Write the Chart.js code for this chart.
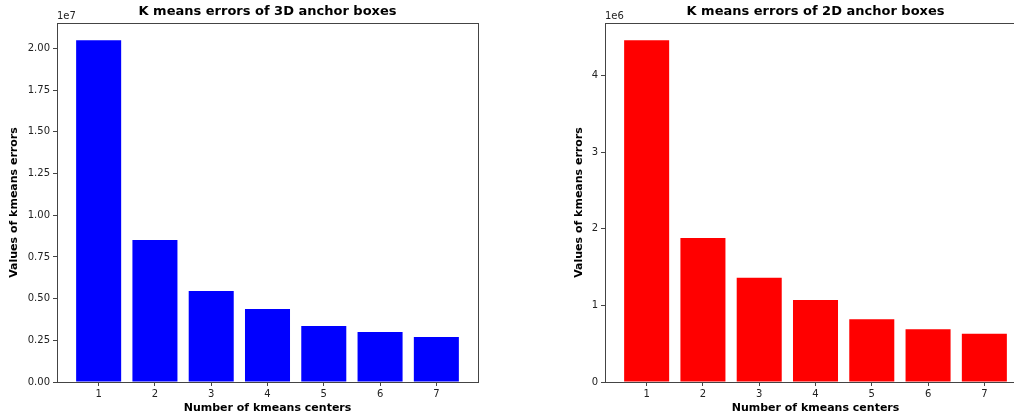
<!DOCTYPE html>
<html>
<head>
<meta charset="utf-8">
<script src="https://cdn.jsdelivr.net/npm/chart.js@4"></script>
<style>
  html, body { margin: 0; padding: 0; background: #fff; overflow: hidden; width: 1014px; height: 417px; position: relative; }
  #left { position: absolute; left: 0; top: 0; }
  #right { position: absolute; left: 560px; top: 0; }
</style>
</head>
<body>
<canvas id="left" width="535" height="417"></canvas>
<canvas id="right" width="511" height="417"></canvas>
<script>
const centers = [1, 2, 3, 4, 5, 6, 7];
const errors3d = [20500000, 8520000, 5460000, 4380000, 3360000, 3000000, 2700000];
const errors2d = [4460000, 1880000, 1360000, 1070000, 820000, 690000, 630000];
const yTicks3d = [0, 2500000, 5000000, 7500000, 10000000, 12500000, 15000000, 17500000, 20000000];
const yTicks2d = [0, 1000000, 2000000, 3000000, 4000000];

const TEXT = '#222';
const AXIS = '#444';

// matplotlib style: frame on all sides + offset text (1e7 / 1e6)
const framePlugin = {
  id: 'frame',
  afterDraw(chart, args, opts) {
    const a = chart.chartArea;
    const ctx = chart.ctx;
    ctx.save();
    ctx.strokeStyle = AXIS;
    ctx.lineWidth = 1;
    ctx.strokeRect(Math.round(a.left) + 0.5, Math.round(a.top) + 0.5,
      Math.round(a.right - a.left), Math.round(a.bottom - a.top));
    ctx.fillStyle = TEXT;
    ctx.font = '10px "DejaVu Sans"';
    ctx.textAlign = 'left';
    ctx.textBaseline = 'bottom';
    ctx.fillText(opts.offsetText, a.left, a.top - 2);
    ctx.restore();
  }
};

function makeChart(id, title, values, color, yMax, yTicks, fmt, offsetText, yWidth, yTitlePad) {
  return new Chart(document.getElementById(id), {
    type: 'bar',
    data: {
      datasets: [{
        data: centers.map((c, i) => ({ x: c, y: values[i] })),
        backgroundColor: color,
        borderWidth: 0,
        categoryPercentage: 1,
        barPercentage: 0.8
      }]
    },
    options: {
      responsive: false,
      animation: false,
      layout: { padding: 0 },
      plugins: {
        legend: { display: false },
        tooltip: { enabled: false },
        title: {
          display: true,
          text: title,
          color: '#000',
          font: { family: 'DejaVu Sans', size: 13, weight: 'bold' },
          padding: { top: 4, bottom: 3.4 }
        },
        frame: { offsetText: offsetText }
      },
      scales: {
        x: {
          type: 'linear',
          min: 0.26,
          max: 7.74,
          offset: false,
          ticks: { color: TEXT, padding: 2, font: { family: 'DejaVu Sans', size: 10 } },
          afterBuildTicks: s => { s.ticks = centers.map(v => ({ value: v })); },
          grid: { offset: false, drawOnChartArea: false, tickLength: 4, color: AXIS },
          border: { color: AXIS },
          title: { display: true, text: 'Number of kmeans centers', color: '#000',
                   font: { family: 'DejaVu Sans', size: 11, weight: 'bold' },
                   padding: { top: 0, bottom: 2 } },
          afterFit: s => { s.height = 35; }
        },
        y: {
          min: 0,
          max: yMax,
          ticks: { color: TEXT, padding: 3, font: { family: 'DejaVu Sans', size: 10 }, callback: fmt },
          afterBuildTicks: s => { s.ticks = yTicks.map(v => ({ value: v })); },
          grid: { drawOnChartArea: false, tickLength: 4, color: AXIS },
          border: { color: AXIS },
          title: { display: true, text: 'Values of kmeans errors', color: '#000',
                   font: { family: 'DejaVu Sans', size: 11, weight: 'bold' },
                   padding: { top: yTitlePad, bottom: 0 } },
          afterFit: s => { s.width = yWidth; }
        },
        // empty spacer on the right so the title centres over the plot area
        spacer: {
          type: 'linear',
          position: 'right',
          ticks: { display: false },
          grid: { display: false },
          border: { display: false },
          afterFit: s => { s.width = yWidth; }
        }
      }
    },
    plugins: [framePlugin]
  });
}

makeChart('left', 'K means errors of 3D anchor boxes', errors3d, '#0000ff',
  21530000, yTicks3d, v => (v / 1e7).toFixed(2), '1e7', 57, 8);
makeChart('right', 'K means errors of 2D anchor boxes', errors2d, '#ff0000',
  4686000, yTicks2d, v => String(Math.round(v / 1e6)), '1e6', 45, 13);
</script>
</body>
</html>
